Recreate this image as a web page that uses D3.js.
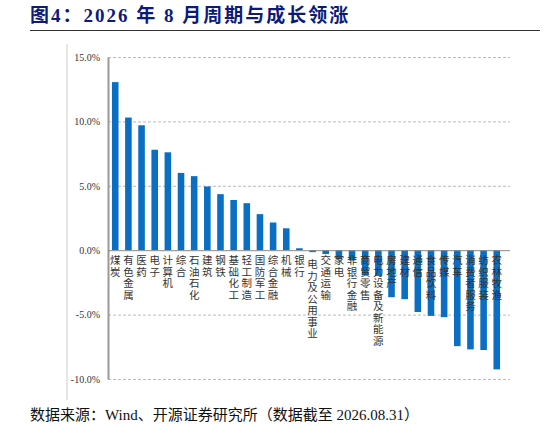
<!DOCTYPE html><html><head><meta charset="utf-8"><script src="https://cdn.jsdelivr.net/npm/d3@7"></script>
<style>body{margin:0;background:#fff}</style></head><body><svg id="c" width="546" height="436"></svg>
<script>
const categories=["煤炭","有色金属","医药","电子","计算机","综合","石油石化","建筑","钢铁","基础化工","轻工制造","国防军工","综合金融","机械","银行","电力及公用事业","交通运输","家电","非银行金融","商贸零售","电力设备及新能源","房地产","建材","通信","食品饮料","传媒","汽车","消费者服务","纺织服装","农林牧渔"];
const values=[13.05,10.3,9.7,7.8,7.6,6.0,5.75,4.95,4.35,3.9,3.65,2.8,2.15,1.7,0.15,-0.15,-0.3,-0.7,-0.8,-1.95,-2.0,-3.65,-3.8,-4.8,-5.1,-5.2,-7.45,-7.7,-7.75,-9.25];
const yTicks=[15,10,5,0,-5,-10];
const svg=d3.select("#c");
svg.append("text").attr("x",30).attr("y",22).attr("font-family","'Liberation Serif','Noto Sans CJK SC'").attr("font-weight","bold").attr("font-size",19).attr("letter-spacing",2).attr("fill","#0d1a78").text("图4：2026 年 8 月周期与成长领涨");
svg.append("line").attr("x1",30).attr("x2",540).attr("y1",30.5).attr("y2",30.5).attr("stroke","#333").attr("stroke-width",1.2);
svg.append("line").attr("x1",67).attr("x2",67).attr("y1",44).attr("y2",400).attr("stroke","#ccc");
const y=d3.scaleLinear().domain([-10,15]).range([379,57]);
const x=d3.scaleBand().domain(categories).range([108,504]).paddingInner(0.5).paddingOuter(0.3);
svg.append("g").selectAll("line").data(yTicks.filter(d=>d!==0)).join("line").attr("x1",108).attr("x2",510).attr("y1",d=>y(d)+.5).attr("y2",d=>y(d)+.5).attr("stroke","#bbb").attr("stroke-dasharray","3,2");
svg.append("g").attr("transform","translate(108,0)").call(d3.axisLeft(y).tickValues(yTicks).tickSize(0).tickPadding(8).tickFormat(d=>d.toFixed(1)+"%"))
 .call(g=>{g.select(".domain").attr("stroke","#999").attr("stroke-width",2);g.selectAll("text").attr("font-family","'Liberation Serif'").attr("font-size",10).attr("fill","#333");});
svg.append("g").selectAll("rect").data(values).join("rect").attr("x",(d,i)=>x(categories[i])).attr("width",x.bandwidth()).attr("y",d=>y(Math.max(0,d))).attr("height",d=>Math.abs(y(d)-y(0))).attr("fill","#0a6fc2");
svg.append("line").attr("x1",108).attr("x2",510).attr("y1",y(0)+.5).attr("y2",y(0)+.5).attr("stroke","#888").attr("stroke-width",1);
const lab=svg.append("g").selectAll("g").data(categories).join("g").attr("transform",(d,i)=>`translate(${x(d)+x.bandwidth()/2},${y(0)+14+(i===15?4:0)})`);
lab.selectAll("text").data(d=>Array.from(d)).join("text").attr("y",(c,j)=>j*11.5).attr("text-anchor","middle").attr("font-family","'Noto Sans CJK SC'").attr("font-size",10.5).attr("fill","#333").text(c=>c);
svg.append("text").attr("x",30).attr("y",420).attr("font-family","'Liberation Serif','Noto Sans CJK SC'").attr("font-size",15).attr("fill","#111").text("数据来源：Wind、开源证券研究所（数据截至 2026.08.31）");
</script></body></html>
